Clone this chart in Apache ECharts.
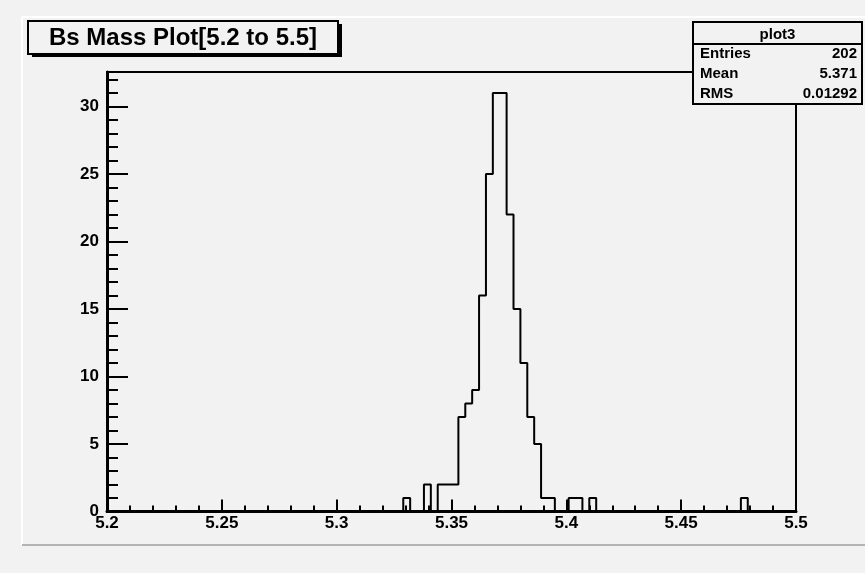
<!DOCTYPE html>
<html>
<head>
<meta charset="utf-8">
<script src="https://cdn.jsdelivr.net/npm/echarts@6/dist/echarts.min.js"></script>
<style>
  html, body { margin: 0; padding: 0; background: #f2f2f2; }
  #chart { width: 865px; height: 573px; }
</style>
</head>
<body>
<div id="chart"></div>
<script>
// ---- data ----
const histTitle = 'Bs Mass Plot[5.2 to 5.5]';
const histName = 'plot3';
const histMin = 5.2;
const histMax = 5.5;
const yMax = 32.55;
// bin counts, 100 bins of width 0.003 from 5.2 to 5.5
const counts = [
  0, 0, 0, 0, 0, 0, 0, 0, 0, 0,
  0, 0, 0, 0, 0, 0, 0, 0, 0, 0,
  0, 0, 0, 0, 0, 0, 0, 0, 0, 0,
  0, 0, 0, 0, 0, 0, 0, 0, 0, 0,
  0, 0, 0, 1, 0, 0, 2, 0, 2, 2,
  2, 7, 8, 9, 16, 25, 31, 31, 22, 15,
  11, 7, 5, 1, 1, 0, 0, 1, 1, 0,
  1, 0, 0, 0, 0, 0, 0, 0, 0, 0,
  0, 0, 0, 0, 0, 0, 0, 0, 0, 0,
  0, 0, 1, 0, 0, 0, 0, 0, 0, 0
];
const statsLabels = ['Entries', 'Mean', 'RMS'];
const statsValues = ['202', '5.371', '0.01292'];
const xMajorStep = 0.05;
const xMinorStep = 0.01;
const yMajorStep = 5;
const yMinorStep = 1;

// ---- build ----
const binWidth = (histMax - histMin) / counts.length;
const stepData = counts.map((c, i) => [histMin + i * binWidth, c]);
stepData.push([histMax, counts[counts.length - 1]]);

const FONT = '"Liberation Sans", Arial, Helvetica, sans-serif';

const gridLeft = 107, gridTop = 72, gridW = 689, gridH = 439.5;

const chart = echarts.init(document.getElementById('chart'), null, { renderer: 'canvas' });

const statsX = 693, statsY = 22, statsW = 169, headH = 22, rowH = 20;
const statsChildren = [
  { type: 'rect', shape: { x: statsX, y: statsY, width: statsW, height: headH + rowH * statsLabels.length },
    style: { fill: '#f2f2f2', stroke: '#000', lineWidth: 2 } },
  { type: 'line', shape: { x1: statsX, y1: statsY + headH, x2: statsX + statsW, y2: statsY + headH },
    style: { stroke: '#000', lineWidth: 2 } },
  { type: 'text', x: statsX + statsW / 2, y: statsY + headH / 2 + 2,
    style: { text: histName, font: 'bold 15px ' + FONT, fill: '#000', align: 'center', verticalAlign: 'middle' } }
];
statsLabels.forEach((lab, i) => {
  const cy = statsY + headH + rowH * i + rowH / 2;
  statsChildren.push({ type: 'text', x: statsX + 7, y: cy,
    style: { text: lab, font: 'bold 15px ' + FONT, fill: '#000', align: 'left', verticalAlign: 'middle' } });
  statsChildren.push({ type: 'text', x: statsX + statsW - 5, y: cy,
    style: { text: statsValues[i], font: 'bold 15px ' + FONT, fill: '#000', align: 'right', verticalAlign: 'middle' } });
});

const option = {
  backgroundColor: '#f2f2f2',
  animation: false,
  grid: {
    left: gridLeft, top: gridTop, width: gridW, height: gridH,
    show: true, borderColor: '#000', borderWidth: 2, backgroundColor: 'transparent'
  },
  xAxis: [
    {
      type: 'value', min: histMin, max: histMax, interval: xMinorStep, position: 'bottom',
      axisLine: { show: true, lineStyle: { color: '#000', width: 3 } },
      axisTick: { show: true, inside: true, length: 6, lineStyle: { color: '#000', width: 2 } },
      axisLabel: {
        show: true, margin: 3, color: '#000', fontWeight: 'bold', fontSize: 17, fontFamily: FONT,
        formatter: v => {
          const k = Math.round(v / xMinorStep);
          if (k % Math.round(xMajorStep / xMinorStep) !== 0) return '';
          return String(+v.toFixed(2));
        }
      },
      splitLine: { show: false }
    },
    {
      type: 'value', min: histMin, max: histMax, interval: xMajorStep, position: 'top', offset: -gridH,
      axisLine: { show: false },
      axisTick: { show: true, inside: false, length: 12, lineStyle: { color: '#000', width: 2 } },
      axisLabel: { show: false },
      splitLine: { show: false }
    }
  ],
  yAxis: [
    {
      type: 'value', min: 0, max: yMax, interval: yMinorStep, position: 'left',
      axisLine: { show: true, lineStyle: { color: '#000', width: 3 } },
      axisTick: { show: true, inside: true, length: 11, lineStyle: { color: '#000', width: 2 } },
      axisLabel: {
        show: true, margin: 8, color: '#000', fontWeight: 'bold', fontSize: 17, fontFamily: FONT,
        formatter: v => {
          const r = Math.round(v);
          if (Math.abs(v - r) > 1e-6 || r % yMajorStep !== 0) return '';
          return String(r);
        }
      },
      splitLine: { show: false }
    },
    {
      type: 'value', min: 0, max: yMax, interval: yMajorStep, position: 'right', offset: -gridW,
      axisLine: { show: false },
      axisTick: { show: true, inside: false, length: 21, lineStyle: { color: '#000', width: 2 } },
      axisLabel: { show: false },
      splitLine: { show: false }
    }
  ],
  series: [
    {
      type: 'line', name: histName, xAxisIndex: 0, yAxisIndex: 0,
      data: stepData, step: 'end', symbol: 'none', clip: false,
      lineStyle: { color: '#000', width: 2 },
      z: 5
    }
  ],
  graphic: [
    // pad bevel lines
    { type: 'line', z: 1, shape: { x1: 22, y1: 17, x2: 865, y2: 17 }, style: { stroke: '#ffffff', lineWidth: 2 } },
    { type: 'line', z: 1, shape: { x1: 22, y1: 17, x2: 22, y2: 545 }, style: { stroke: '#ffffff', lineWidth: 2 } },
    { type: 'line', z: 1, shape: { x1: 22, y1: 545, x2: 865, y2: 545 }, style: { stroke: '#b4b4b4', lineWidth: 2 } },
    // title box with shadow
    { type: 'group', z: 100, children: [
      { type: 'rect', shape: { x: 32, y: 24, width: 310, height: 33 }, style: { fill: '#000' } },
      { type: 'rect', shape: { x: 28, y: 21, width: 310, height: 33 }, style: { fill: '#f2f2f2', stroke: '#000', lineWidth: 2 } },
      { type: 'text', x: 28 + 310 / 2, y: 21 + 16.5 + 1,
        style: { text: histTitle, font: 'bold 24px ' + FONT, fill: '#000', align: 'center', verticalAlign: 'middle' } }
    ] },
    { type: 'group', z: 100, children: statsChildren }
  ]
};
chart.setOption(option);
</script>
</body>
</html>
